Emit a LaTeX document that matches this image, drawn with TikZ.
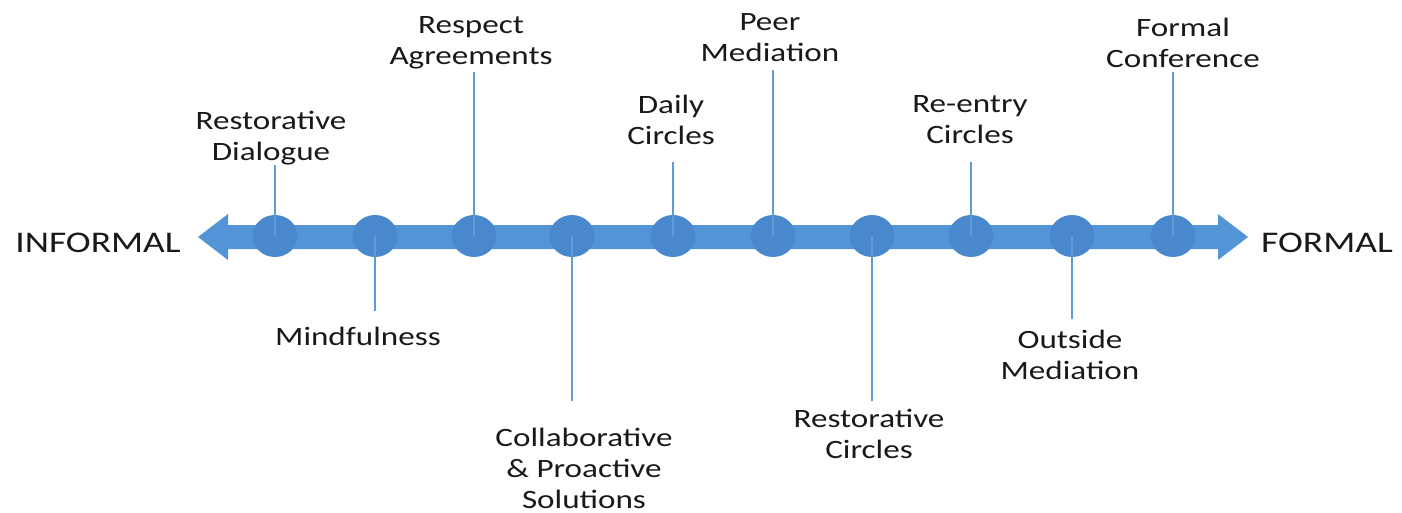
\documentclass[tikz,border=0pt]{standalone}
\usepackage{fontspec}
\setmainfont{Carlito}[FakeStretch=1.25]
\definecolor{arrowblue}{RGB}{83,148,215}
\definecolor{dotblue}{RGB}{74,136,205}
\definecolor{stemblue}{RGB}{95,155,212}
\definecolor{txt}{RGB}{25,25,25}
\begin{document}
\begin{tikzpicture}[x=1pt,y=-1pt,
  stem/.style={draw=stemblue,line width=1.4pt},
  lbl/.style={font=\fontsize{26.5}{31}\selectfont,text=txt,align=center,inner sep=0pt},
  big/.style={font=\fontsize{30}{32}\selectfont,text=txt,inner sep=0pt}]
\useasboundingbox (0,0) rectangle (1402,512);
% main arrow
\fill[arrowblue] (198,237) -- (228,214) -- (228,225) -- (1218,225) -- (1218,214)
  -- (1248,237) -- (1218,260) -- (1218,249) -- (228,249) -- (228,260) -- cycle;
% dots
\foreach \n/\x in {d1/275,d2/375,d3/474,d4/572,d5/673,d6/773,d7/872,d8/971,d9/1072,d10/1173}{
  \fill[dotblue] (\x,236) ellipse [x radius=22.5, y radius=21];
  \coordinate (\n) at (\x,236);
}
% end labels
\node[big] (inf) at (98,243) {INFORMAL};
\node[big] (frm) at (1327,243) {FORMAL};
% stems
\coordinate (t1) at (275,165);
\coordinate (t3) at (474,72);
\coordinate (t5) at (673,162);
\coordinate (t6) at (773,70);
\coordinate (t8) at (971,162);
\coordinate (t10) at (1173,72);
\coordinate (b2) at (375,311);
\coordinate (b4) at (572,401);
\coordinate (b7) at (872,401);
\coordinate (b9) at (1072,319);
\foreach \a/\b in {t1/d1,t3/d3,t5/d5,t6/d6,t8/d8,t10/d10,b2/d2,b4/d4,b7/d7,b9/d9}{
  \draw[stem] (\a) -- (\b);
}
\node[lbl] (l1) at (271,138) {Restorative\\Dialogue};
\node[lbl] (l3) at (471,43) {Respect\\Agreements};
\node[lbl] (l5) at (671,120) {Daily\\Circles};
\node[lbl] (l6) at (770,38) {Peer\\Mediation};
\node[lbl] (l8) at (970,120) {Re-entry\\Circles};
\node[lbl] (l10) at (1183,43) {Formal\\Conference};
\node[lbl] (l2) at (358,336) {Mindfulness};
\node[lbl] (l4) at (584,468) {Collaborative\\\& Proactive\\Solutions};
\node[lbl] (l7) at (869,434) {Restorative\\Circles};
\node[lbl] (l9) at (1070,355) {Outside\\Mediation};
\end{tikzpicture}
\end{document}
